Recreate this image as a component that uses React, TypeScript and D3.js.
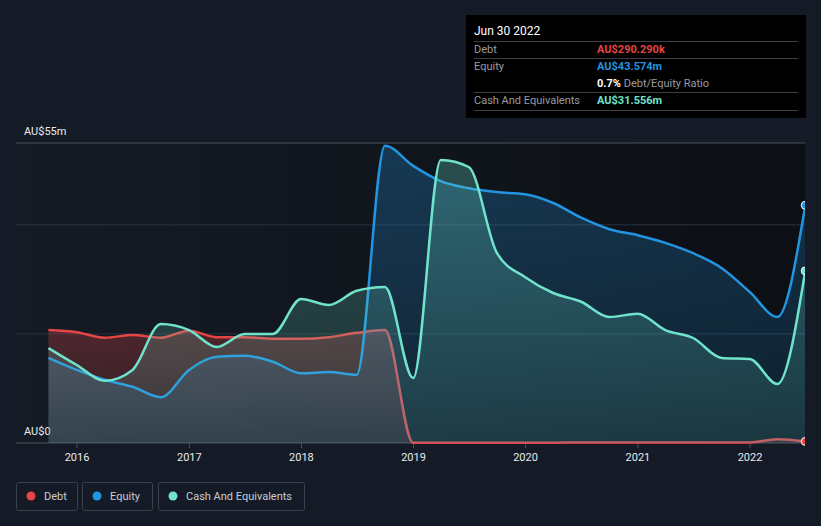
import React, { useEffect, useRef } from "react";
import * as d3 from "d3";

const dates = [
  "2015-09-30", "2015-12-31", "2016-03-31", "2016-06-30", "2016-09-30", "2016-12-31",
  "2017-03-31", "2017-06-30", "2017-09-30", "2017-12-31", "2018-03-31", "2018-06-30",
  "2018-09-30", "2018-12-31", "2019-03-31", "2019-06-30", "2019-09-30", "2019-12-31",
  "2020-03-31", "2020-06-30", "2020-09-30", "2020-12-31", "2021-03-31", "2021-06-30",
  "2021-09-30", "2021-12-31", "2022-03-31", "2022-06-30",
];

const debt = [
  20.7, 20.3, 19.3, 19.8, 19.3, 20.6, 19.4, 19.4, 19.1, 19.1, 19.4, 20.2,
  20.7, 0.05, 0.05, 0.05, 0.05, 0.05, 0.05, 0.1, 0.1, 0.1, 0.1, 0.1,
  0.1, 0.1, 0.7, 0.29,
];

const equity = [
  15.6, 13.4, 11.6, 10.3, 8.4, 13.4, 15.8, 16.0, 14.9, 12.8, 13.0, 12.5,
  54.5, 50.8, 48.0, 46.7, 46.0, 45.6, 44.0, 41.3, 39.2, 38.1, 36.7, 34.8,
  32.1, 27.7, 23.1, 43.574,
];

const cash = [
  17.4, 14.3, 11.4, 13.4, 21.8, 20.7, 17.6, 20.0, 20.0, 26.4, 25.3, 27.9,
  28.6, 11.9, 51.9, 50.6, 34.8, 30.4, 27.5, 25.9, 23.1, 23.7, 20.7, 19.25,
  15.6, 15.4, 10.8, 31.556,
];

const yearTicks = [2016, 2017, 2018, 2019, 2020, 2021, 2022];
const gridValues = [0, 20, 40, 55];

const seriesList = [
  { key: "debt", name: "Debt", color: "#e64545", values: debt },
  { key: "equity", name: "Equity", color: "#2394df", values: equity },
  { key: "cash", name: "Cash And Equivalents", color: "#6fe3cb", values: cash },
];

const W = 821;
const H = 526;
const FONT = "Roboto, 'Noto Sans', sans-serif";

export default function App() {
  const svgRef = useRef<SVGSVGElement>(null);

  useEffect(() => {
    if (!svgRef.current) return;
    const svg = d3.select(svgRef.current);
    svg.selectAll("*").remove();

    const left = 16;
    const right = 805;
    const top = 143;
    const bottom = 443;

    const parse = d3.timeParse("%Y-%m-%d");
    const ds = dates.map((d) => parse(d) as Date);

    const x = d3
      .scaleTime()
      .domain([new Date(2016, 0, 1), new Date(2022, 0, 1)])
      .range([77, 750]);
    const y = d3.scaleLinear().domain([0, 55]).range([bottom, top]);

    const defs = svg.append("defs");
    const bg = defs
      .append("linearGradient")
      .attr("id", "plot-bg")
      .attr("x1", "0%")
      .attr("x2", "100%")
      .attr("y1", "0%")
      .attr("y2", "0%");
    bg.append("stop").attr("offset", "0%").attr("stop-color", "#151b25");
    bg.append("stop").attr("offset", "100%").attr("stop-color", "#0c0f14");

    defs
      .append("clipPath")
      .attr("id", "plot-clip")
      .append("rect")
      .attr("x", 0)
      .attr("y", 0)
      .attr("width", right)
      .attr("height", H);

    seriesList.forEach((s) => {
      const g = defs
        .append("linearGradient")
        .attr("id", `fill-${s.key}`)
        .attr("x1", "0%")
        .attr("x2", "0%")
        .attr("y1", "0%")
        .attr("y2", "100%");
      g.append("stop").attr("offset", "0%").attr("stop-color", s.color).attr("stop-opacity", 0.28);
      g.append("stop").attr("offset", "100%").attr("stop-color", s.color).attr("stop-opacity", 0.12);
    });

    svg.append("rect").attr("width", W).attr("height", H).attr("fill", "#151b26");
    svg
      .append("rect")
      .attr("x", left)
      .attr("y", top)
      .attr("width", right - left)
      .attr("height", bottom - top)
      .attr("fill", "url(#plot-bg)");

    // grid
    svg
      .selectAll(".grid")
      .data(gridValues)
      .enter()
      .append("line")
      .attr("x1", left)
      .attr("x2", right)
      .attr("y1", (d) => y(d))
      .attr("y2", (d) => y(d))
      .attr("stroke", (d) => (d === 55 || d === 0 ? "#4b525c" : "#2a323d"))
      .attr("stroke-width", 1);

    // x ticks
    svg
      .selectAll(".xtick")
      .data(yearTicks)
      .enter()
      .append("line")
      .attr("x1", (d) => x(new Date(d, 0, 1)))
      .attr("x2", (d) => x(new Date(d, 0, 1)))
      .attr("y1", bottom)
      .attr("y2", bottom + 5)
      .attr("stroke", "#4b525c");

    svg
      .selectAll(".xlabel")
      .data(yearTicks)
      .enter()
      .append("text")
      .attr("x", (d) => x(new Date(d, 0, 1)))
      .attr("y", 461)
      .attr("text-anchor", "middle")
      .style("font-family", FONT)
      .style("font-size", "11px")
      .style("fill", "#e8eaed")
      .text((d) => String(d));

    svg
      .append("text")
      .attr("x", 24)
      .attr("y", 135)
      .style("font-family", FONT)
      .style("font-size", "11px")
      .style("fill", "#e8eaed")
      .text("AU$55m");
    svg
      .append("text")
      .attr("x", 24)
      .attr("y", 435)
      .style("font-family", FONT)
      .style("font-size", "11px")
      .style("fill", "#e8eaed")
      .text("AU$0");

    // each series: area then line, in order, so later areas veil earlier lines
    const plot = svg.append("g").attr("clip-path", "url(#plot-clip)");
    seriesList.forEach((s) => {
      const pts = s.values.map((v, i) => [ds[i], v] as [Date, number]);
      const area = d3
        .area<[Date, number]>()
        .x((d) => x(d[0]))
        .y0(bottom)
        .y1((d) => y(d[1]))
        .curve(d3.curveMonotoneX);
      const line = d3
        .line<[Date, number]>()
        .x((d) => x(d[0]))
        .y((d) => y(d[1]))
        .curve(d3.curveMonotoneX);
      plot.append("path").datum(pts).attr("fill", `url(#fill-${s.key})`).attr("d", area);
      plot
        .append("path")
        .datum(pts)
        .attr("fill", "none")
        .attr("stroke", s.color)
        .attr("stroke-width", 2.5)
        .attr("d", line);
    });

    seriesList.forEach((s) => {
      const n = s.values.length - 1;
      plot
        .append("circle")
        .attr("cx", x(ds[n]))
        .attr("cy", y(s.values[n]))
        .attr("r", 4)
        .attr("fill", s.color)
        .attr("stroke", "#ffffff")
        .attr("stroke-width", 1);
    });

    // legend
    const legendX = [16, 82, 158];
    const legendW = [61, 70, 146];
    seriesList.forEach((s, i) => {
      const g = svg.append("g").attr("transform", `translate(${legendX[i]},482)`);
      g.append("rect")
        .attr("x", 0.5)
        .attr("y", 0.5)
        .attr("width", legendW[i])
        .attr("height", 28)
        .attr("rx", 2)
        .attr("fill", "none")
        .attr("stroke", "#3a414c");
      g.append("circle").attr("cx", 15).attr("cy", 14).attr("r", 4.5).attr("fill", s.color);
      g.append("text")
        .attr("x", 28)
        .attr("y", 18)
        .style("font-family", FONT)
        .style("font-size", "11px")
        .style("fill", "#c9ccd1")
        .text(s.name);
    });

    // tooltip
    const tip = svg.append("g").attr("transform", "translate(466,15)");
    tip.append("rect").attr("width", 340).attr("height", 103).attr("fill", "#000000");
    tip
      .append("text")
      .attr("x", 8)
      .attr("y", 20)
      .style("font-family", FONT)
      .style("font-size", "12px")
      .style("fill", "#ffffff")
      .text("Jun 30 2022");
    [26, 43, 77, 95].forEach((ly) => {
      tip
        .append("line")
        .attr("x1", 8)
        .attr("x2", 332)
        .attr("y1", ly + 0.5)
        .attr("y2", ly + 0.5)
        .attr("stroke", "#3d3f44");
    });
    const rows = [
      { label: "Debt", value: "AU$290.290k", color: "#e64545", y: 38 },
      { label: "Equity", value: "AU$43.574m", color: "#2394df", y: 55 },
      { label: "Cash And Equivalents", value: "AU$31.556m", color: "#6fe3cb", y: 89 },
    ];
    rows.forEach((r) => {
      tip
        .append("text")
        .attr("x", 8)
        .attr("y", r.y)
        .style("font-family", FONT)
        .style("font-size", "11px")
        .style("fill", "#9a9ca0")
        .text(r.label);
      tip
        .append("text")
        .attr("x", 131)
        .attr("y", r.y)
        .style("font-family", FONT)
        .style("font-size", "11px")
        .style("font-weight", "bold")
        .style("fill", r.color)
        .text(r.value);
    });
    const ratio = tip
      .append("text")
      .attr("x", 131)
      .attr("y", 72)
      .style("font-family", FONT)
      .style("font-size", "11px");
    ratio.append("tspan").style("fill", "#ffffff").style("font-weight", "bold").text("0.7%");
    ratio.append("tspan").style("fill", "#9a9ca0").text(" Debt/Equity Ratio");
  }, []);

  return (
    <svg
      ref={svgRef}
      width={W}
      height={H}
      style={{ position: "absolute", left: 0, top: 0, display: "block" }}
    />
  );
}
